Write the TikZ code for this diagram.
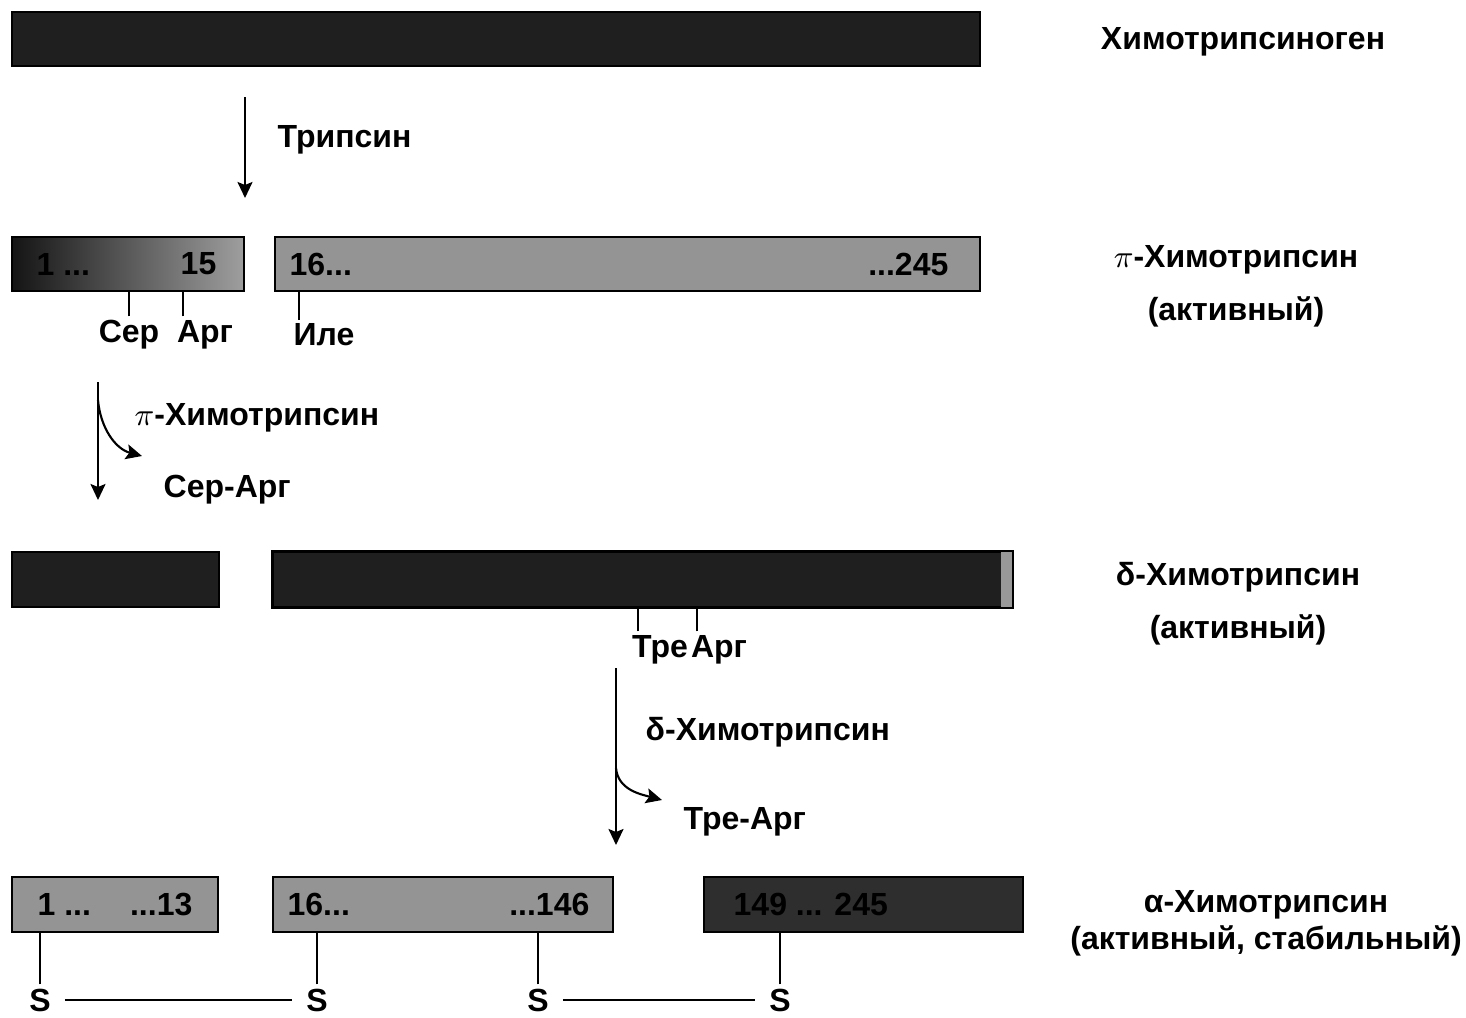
\documentclass[tikz,border=0pt]{standalone}
\usepackage{fontspec}
\setmainfont{Liberation Sans}
\usetikzlibrary{arrows.meta, positioning, fit}

\begin{document}
\begin{tikzpicture}[
    x=0.01cm, y=-0.01cm,
    every node/.style={font=\bfseries\fontsize{9.1}{15}\selectfont},
    darkbar/.style={draw, line width=0.6pt, inner sep=0pt, fill=black!88, fit={#1}},
    lightbar/.style={draw, line width=0.6pt, inner sep=0pt, fill=black!42, fit={#1}},
    num/.style={inner sep=0pt},
    lbl/.style={inner sep=1pt},
    tick/.style={line width=0.6pt},
    arrow/.style={-{Stealth[length=1.6mm,width=1.5mm,inset=0.3mm]}, line width=0.6pt}
]
\useasboundingbox (0,0) rectangle (1466,1017);

% ------------------------
% Chymotrypsinogen
% ------------------------
\node[darkbar={(12,12) (980,66)}] (cg) {};
\node (nm0) at (1243,42) {Химотрипсиноген};

\coordinate (t1) at (245,97);
\coordinate (t2) at (245,198);
\draw[arrow] (t1) -- (t2);
\node[anchor=west, inner sep=0pt] (tryp) at (277,140) {Трипсин};

% ------------------------
% pi-chymotrypsin
% ------------------------
\node[darkbar={(12,237) (244,291)}, left color=black!92, middle color=black!88, right color=black!38] (pl) {};
\node[lightbar={(275,237) (980,291)}] (pr) {};
\node[num, anchor=west] at ([xshift=2.5mm]pl.west) {1 ...};
\node[num, anchor=east] at ([xshift=-2.8mm]pl.east) {15};
\node[num, anchor=west] at ([xshift=1.5mm]pr.west) {16...};
\node[num, anchor=east] at ([xshift=-3.2mm]pr.east) {...245};

\node[lbl] (ser) at (129,335) {Сер};
\node[lbl] (arg1) at (205,335) {Арг};
\node[lbl] (ile) at (324,335) {Иле};
\draw[tick] (ser.north) -- (ser.north |- pl.south);
\draw[tick] ([xshift=1mm]arg1.north west) -- ([xshift=1mm]arg1.north west |- pl.south);
\draw[tick] ([xshift=1mm]ile.north west) -- ([xshift=1mm]ile.north west |- pr.south);

\node (nm1) [align=center] at (1236,286) {$\pi$-Химотрипсин\\(активный)};

\coordinate (p1) at (98,382);
\coordinate (p2) at (98,500);
\coordinate (pb) at (98,400);
\coordinate (pe) at (142,456);
\draw[arrow] (p1) -- (p2);
\draw[arrow] (pb) to[out=-85, in=165] (pe);
\node[anchor=west, inner sep=0pt] (enz1) at (134,418) {$\pi$-Химотрипсин};
\node[anchor=west, inner sep=0pt] (sa) at (163,490) {Сер-Арг};

% ------------------------
% delta-chymotrypsin
% ------------------------
\node[darkbar={(12,552) (219,607)}] (dl) {};
\node[darkbar={(273,552) (1012,607)}] (dr) {};
\fill[black!40] ([xshift=-1.2mm]dr.north east) rectangle (dr.south east);
\draw[line width=0.6pt] (dr.north west) rectangle (dr.south east);

\node[lbl] (thr) at (660,650) {Тре};
\node[lbl] (arg2) at (719,650) {Арг};
\draw[tick] ([xshift=1mm]thr.north west) -- ([xshift=1mm]thr.north west |- dr.south);
\draw[tick] ([xshift=1mm]arg2.north west) -- ([xshift=1mm]arg2.north west |- dr.south);

\node (nm2) [align=center] at (1238,604) {δ-Химотрипсин\\(активный)};

\coordinate (d1) at (616,668);
\coordinate (d2) at (616,845);
\coordinate (db) at (616,768);
\coordinate (de) at (662,800);
\draw[arrow] (d1) -- (d2);
\draw[arrow] (db) to[out=-85, in=165] (de);
\node[anchor=west, inner sep=0pt] (enz2) at (645,732) {δ-Химотрипсин};
\node[anchor=west, inner sep=0pt] (ta) at (683,822) {Тре-Арг};

% ------------------------
% alpha-chymotrypsin
% ------------------------
\node[lightbar={(12,877) (218,932)}] (a1) {};
\node[lightbar={(273,877) (613,932)}] (a2) {};
\node[darkbar={(704,877) (1023,932)}, fill=black!82] (a3) {};
\node[num, anchor=west] at ([xshift=2.6mm]a1.west) {1 ...};
\node[num, anchor=east] at ([xshift=-2.6mm]a1.east) {...13};
\node[num, anchor=west] at ([xshift=1.5mm]a2.west) {16...};
\node[num, anchor=east] at ([xshift=-2.4mm]a2.east) {...146};
\node[num, anchor=west] at ([xshift=3mm]a3.west) {149 ... 245};

\node[lbl] (s1) at (40,1000) {S};
\node[lbl] (s2) at (317,1000) {S};
\node[lbl] (s3) at (538,1000) {S};
\node[lbl] (s4) at (780,1000) {S};
\draw[tick] (s1.north) -- (s1.north |- a1.south);
\draw[tick] (s2.north) -- (s2.north |- a2.south);
\draw[tick] (s3.north) -- (s3.north |- a2.south);
\draw[tick] (s4.north) -- (s4.north |- a3.south);
\draw[tick] ([xshift=1mm]s1.east) -- ([xshift=-1mm]s2.west);
\draw[tick] ([xshift=1mm]s3.east) -- ([xshift=-1mm]s4.west);

\node (nm3) [align=center] at (1266,923) {α-Химотрипсин\\[-4.5pt](активный, стабильный)};

\end{tikzpicture}
\end{document}
